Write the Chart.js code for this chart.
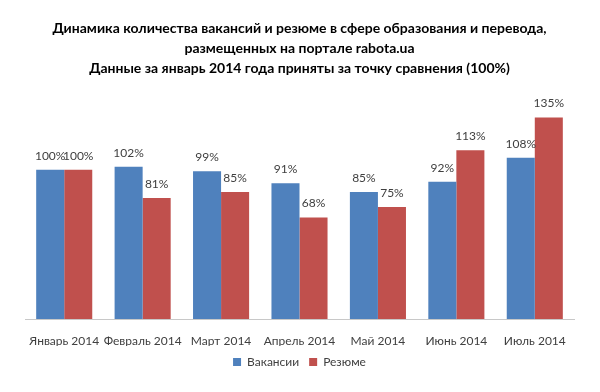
<!DOCTYPE html>
<html>
<head>
<meta charset="utf-8">
<script src="https://cdn.jsdelivr.net/npm/chart.js@4.4.1/dist/chart.umd.min.js"></script>
<style>
    html, body { margin: 0; padding: 0; background: #fff; }
    #wrap { width: 600px; height: 392px; }
</style>
</head>
<body>
<div id="wrap"><canvas id="jobsChart" width="600" height="392"></canvas></div>
<script>
// данные с графика
const months = ['Январь 2014', 'Февраль 2014', 'Март 2014', 'Апрель 2014', 'Май 2014', 'Июнь 2014', 'Июль 2014'];
const vacancies = [100, 102, 99, 91, 85, 92, 108];
const resumes = [100, 81, 85, 68, 75, 113, 135];
const titleLines = [
    'Динамика количества вакансий и резюме в сфере образования и перевода,',
    'размещенных на портале rabota.ua',
    'Данные за январь 2014 года приняты за точку сравнения (100%)'
];

const FONT = 'Lato, "Noto Sans", sans-serif';

// подписи значений над столбцами
const valueLabels = {
    id: 'valueLabels',
    afterDatasetsDraw(chart) {
        const ctx = chart.ctx;
        ctx.save();
        ctx.font = '12px ' + FONT;
        ctx.fillStyle = '#404040';
        ctx.textAlign = 'center';
        ctx.textBaseline = 'middle';
        chart.data.datasets.forEach((ds, i) => {
            chart.getDatasetMeta(i).data.forEach((bar, j) => {
                ctx.fillText(ds.data[j] + '%', bar.x, bar.y - 14);
            });
        });
        ctx.restore();
    }
};

new Chart(document.getElementById('jobsChart').getContext('2d'), {
    type: 'bar',
    data: {
        labels: months,
        datasets: [
            {
                label: 'Вакансии',
                data: vacancies,
                backgroundColor: '#4F81BD',
                categoryPercentage: 0.715,
                barPercentage: 1.0
            },
            {
                label: 'Резюме',
                data: resumes,
                backgroundColor: '#C0504D',
                categoryPercentage: 0.715,
                barPercentage: 1.0
            }
        ]
    },
    options: {
        responsive: false,
        animation: false,
        layout: { padding: { left: 25, right: 26, top: 0, bottom: 14 } },
        scales: {
            x: {
                grid: { display: false, drawTicks: false },
                border: { display: true, color: '#C8C8C8', width: 1 },
                ticks: { color: '#404040', font: { family: FONT, size: 12 }, padding: 15, maxRotation: 0, autoSkip: false },
                afterFit: (scale) => { scale.height = 27; }
            },
            y: {
                display: false,
                min: 0,
                max: 150
            }
        },
        plugins: {
            title: {
                display: true,
                text: titleLines,
                color: '#000',
                font: { family: FONT, size: 14, weight: 'bold', lineHeight: 1.43 },
                padding: { top: 18, bottom: 17 }
            },
            legend: {
                position: 'bottom',
                labels: {
                    color: '#404040',
                    font: { family: FONT, size: 12 },
                    boxWidth: 8,
                    boxHeight: 8,
                    padding: 10
                }
            },
            tooltip: { enabled: false }
        }
    },
    plugins: [valueLabels]
});
</script>
</body>
</html>
